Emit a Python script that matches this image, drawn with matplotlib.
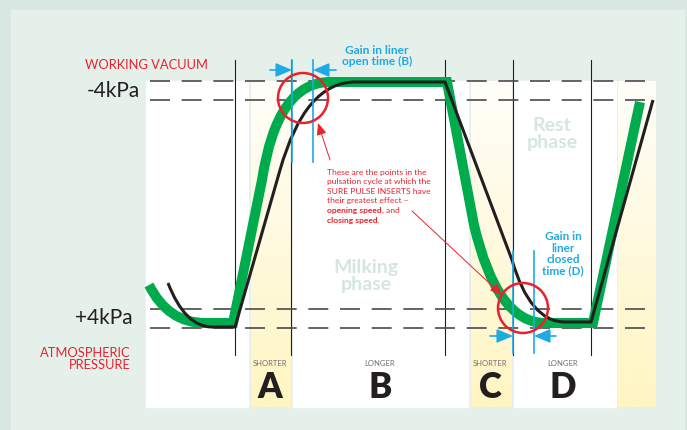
import matplotlib
matplotlib.use("Agg")
import numpy as np
import matplotlib.pyplot as plt
from matplotlib.path import Path
from matplotlib.patches import PathPatch, Circle, Rectangle
from matplotlib.colors import LinearSegmentedColormap

plt.rcParams['font.family'] = ['Lato', 'DejaVu Sans']
plt.rcParams['lines.scale_dashes'] = False

# --- diagram values, in picture units (x = time, y = pressure, pixel scale) ---
vacuum_levels = [81, 100]        # -4kPa band (dashed)
atmos_levels = [309, 328]        # +4kPa band (dashed)
phase_lines = [235, 291, 445, 513, 591]   # thin black verticals
columns_white = [(146, 248), (293, 468), (514, 616)]
columns_yellow = [(251, 291), (471, 512), (618, 656)]

# green (standard insert) curve: vertices + path codes
green_x = [149, 168, 205, 233, 262, 277, 330, 447, 474, 497, 545, 593, 640]
green_y = [285, 323, 323, 323, 180, 82, 82, 82, 225, 323, 323, 323, 102]
# black (sure pulse insert) curve
black_x = [168, 185, 212, 235, 280, 305, 355, 445, 512, 530, 565, 591, 653]
black_y = [283, 327, 327, 327, 170, 82, 82, 82, 260, 322, 322, 322, 100]
curve_codes = [Path.MOVETO, Path.CURVE3, Path.CURVE3, Path.LINETO, Path.LINETO,
               Path.CURVE3, Path.CURVE3, Path.LINETO, Path.LINETO,
               Path.CURVE3, Path.CURVE3, Path.LINETO, Path.LINETO]

gain_open_x = [292, 313]
gain_closed_x = [513, 534]
circles = [(303, 98), (523, 308)]

column_letters = ['A', 'B', 'C', 'D']
column_words = ['SHORTER', 'LONGER', 'SHORTER', 'LONGER']
column_centers = [270, 380, 490, 563]

note_lines = ['These are the points in the', 'pulsation cycle at which the',
              'SURE PULSE INSERTS have', 'their greatest effect \u2013']

GREEN = '#00ab4e'
BLACK = '#231f20'
BLUE = '#1eaae2'
RED = '#e8222d'
PALE = '#d6e6df'

fig = plt.figure(figsize=(6.87, 4.30), dpi=100)
fig.patch.set_facecolor('#d9e7e2')
ax = fig.add_axes([0, 0, 1, 1])
ax.set_xlim(0, 687)
ax.set_ylim(430, 0)
ax.axis('off')

# inner panel
ax.add_patch(Rectangle((11, 10), 673, 430, color='#e6f0eb', zorder=0))

# white columns
for x0, x1 in columns_white:
    ax.add_patch(Rectangle((x0, vacuum_levels[0]), x1 - x0, 407 - vacuum_levels[0],
                           color='white', zorder=1))
# yellow gradient columns
cmap = LinearSegmentedColormap.from_list('yel', ['#fffefa', '#fff5c2'])
grad = np.linspace(0, 1, 200).reshape(-1, 1)
for x0, x1 in columns_yellow:
    ax.imshow(grad, cmap=cmap, aspect='auto', extent=(x0, x1, 407, vacuum_levels[0]),
              zorder=1, interpolation='bilinear')
ax.set_xlim(0, 687)
ax.set_ylim(430, 0)

# thin phase lines
for x in phase_lines:
    ax.plot([x, x], [60, 355], color=BLACK, lw=0.8, zorder=2)

# dashed pressure lines
for y in vacuum_levels + atmos_levels:
    ax.plot([150, 655], [y, y], color='#4a4a4a', lw=1.2, zorder=2,
            linestyle=(0, (14.4, 8.4)))

# curves
gp = Path(np.column_stack([green_x, green_y]), curve_codes)
ax.add_patch(PathPatch(gp, facecolor='none', edgecolor=GREEN, lw=7.2,
                       capstyle='butt', joinstyle='miter', zorder=3))
bp = Path(np.column_stack([black_x, black_y]), curve_codes)
ax.add_patch(PathPatch(bp, facecolor='none', edgecolor=BLACK, lw=2.2,
                       capstyle='butt', joinstyle='miter', zorder=4))

# red circles
for cx, cy in circles:
    ax.add_patch(Circle((cx, cy), 25, facecolor='none', edgecolor=RED, lw=1.8, zorder=6))

# blue gain markers
for x in gain_open_x:
    ax.plot([x, x], [60, 162], color=BLUE, lw=1.2, zorder=5)
for x in gain_closed_x:
    ax.plot([x, x], [251, 353], color=BLUE, lw=1.2, zorder=5)
arrow = dict(arrowstyle='-|>,head_length=0.7,head_width=0.3', color=BLUE, lw=1.2,
             shrinkA=0, shrinkB=0, mutation_scale=14)
ax.annotate('', xy=(gain_open_x[0], 70), xytext=(270, 70), arrowprops=arrow, zorder=6)
ax.annotate('', xy=(gain_open_x[1], 70), xytext=(336, 70), arrowprops=arrow, zorder=6)
ax.annotate('', xy=(gain_closed_x[0], 336), xytext=(490, 336), arrowprops=arrow, zorder=6)
ax.annotate('', xy=(gain_closed_x[1], 336), xytext=(556, 336), arrowprops=arrow, zorder=6)

# red pointer lines
red_arrow = dict(arrowstyle='-|>,head_length=0.6,head_width=0.25', color=RED, lw=0.7,
                 shrinkA=0, shrinkB=0, mutation_scale=12)
ax.annotate('', xy=(318, 123), xytext=(330, 160), arrowprops=red_arrow, zorder=6)
ax.annotate('', xy=(502, 295), xytext=(412, 211), arrowprops=red_arrow, zorder=6)

# left labels
ax.text(208, 65, 'WORKING VACUUM', color=RED, fontsize=9.3, ha='right', va='center')
ax.text(140, 91, '-4kPa', color=BLACK, fontsize=15, ha='right', va='center')
ax.text(133, 318, '+4kPa', color=BLACK, fontsize=15, ha='right', va='center')
ax.text(131, 359, 'ATMOSPHERIC\nPRESSURE', color=RED, fontsize=9.3, ha='right',
        va='center', linespacing=1.0)

# gain texts
ax.text(377, 56, 'Gain in liner\nopen time (B)', color=BLUE, fontsize=8.6, fontweight='bold',
        ha='center', va='center', linespacing=1.1)
ax.text(563, 254, 'Gain in\nliner\nclosed\ntime (D)', color=BLUE, fontsize=8.5,
        fontweight='bold', ha='center', va='center', linespacing=1.05)

# note text
y0 = 172
for i, line in enumerate(note_lines):
    ax.text(327, y0 + i * 9.6, line, color=RED, fontsize=6.1, ha='left', va='center')
t = ax.text(327, y0 + 4 * 9.6, 'opening speed', color=RED, fontsize=6.1,
            fontweight='bold', ha='left', va='center')
ax.annotate(', and', xy=(1, 0.5), xycoords=t, color=RED, fontsize=6.1,
            ha='left', va='center')
ax.text(327, y0 + 5 * 9.6, 'closing speed.', color=RED, fontsize=6.1,
        fontweight='bold', ha='left', va='center')

# phase labels
ax.text(366, 276, 'Milking\nphase', color=PALE, fontsize=14, fontweight='bold',
        ha='center', va='center', linespacing=1.0)
ax.text(552, 134, 'Rest\nphase', color=PALE, fontsize=14, fontweight='bold',
        ha='center', va='center', linespacing=1.0)

# column letters
for cx, word, letter in zip(column_centers, column_words, column_letters):
    ax.text(cx, 364, word, color='#707070', fontsize=5.5, ha='center', va='center')
    ax.text(cx, 388, letter, color=BLACK, fontsize=25, fontweight='heavy',
            ha='center', va='center')

fig.savefig('out.png', dpi=100, facecolor=fig.get_facecolor())
